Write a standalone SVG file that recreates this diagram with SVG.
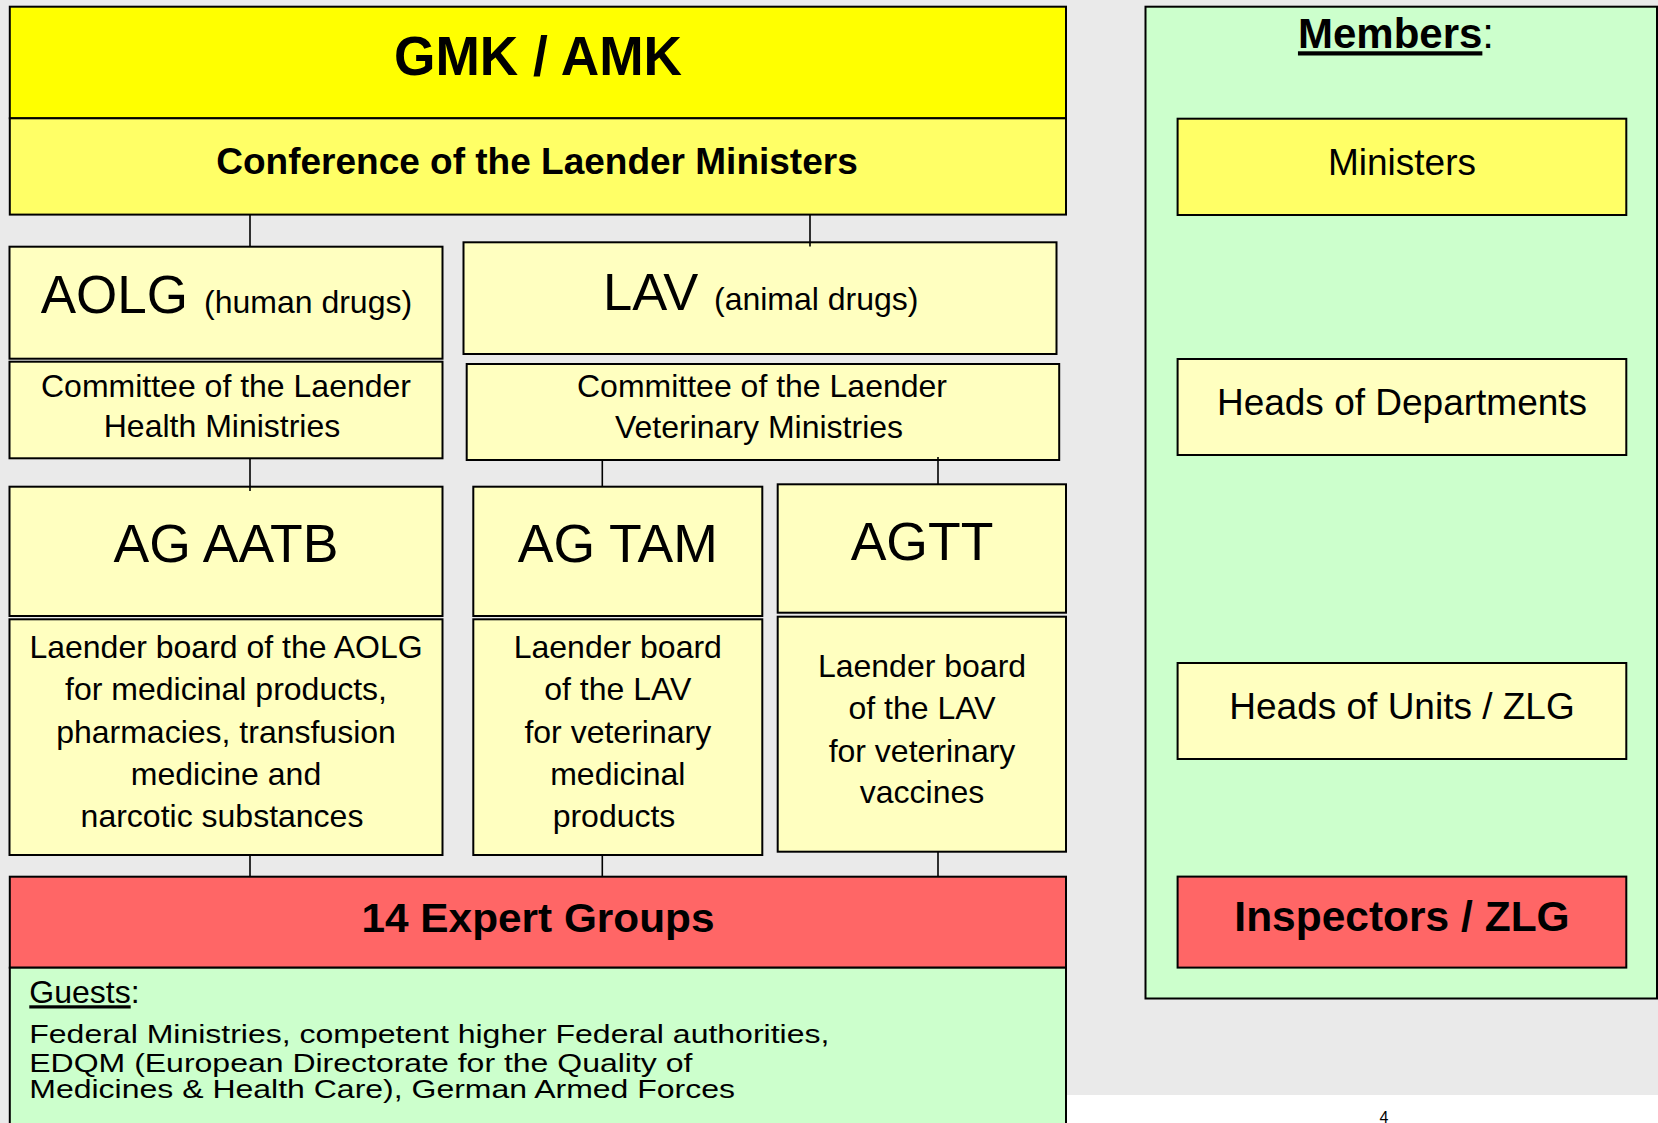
<svg xmlns="http://www.w3.org/2000/svg" width="1658" height="1123" viewBox="0 0 1658 1123">
<style>
text{font-family:"Liberation Sans",Arial,sans-serif;fill:#000}
.box{stroke:#000;stroke-width:2}
.y1{fill:#FFFF00}.y2{fill:#FFFF66}.y3{fill:#FFFFC0}.g{fill:#CCFFCC}.r{fill:#FF6666}
.c{text-anchor:middle}
.b{font-weight:bold}
.t31{font-size:32px}.t37{font-size:37px}.t51{font-size:53.5px}
.conn line{stroke:#000;stroke-width:1.6}
</style>
<rect width="1658" height="1123" fill="#EAEAEA"/>
<rect x="1066" y="1095" width="592" height="28" fill="#FFFFFF"/>
<text x="1384" y="1123" class="c" font-size="16" fill="#222">4</text>

<g id="gmk"><rect class="box y1" x="9.8" y="6.7" width="1056.2" height="111.6"/>
<text x="538" y="75" class="c b" font-size="56" textLength="288" lengthAdjust="spacingAndGlyphs">GMK / AMK</text></g>
<g id="conference"><rect class="box y2" x="9.8" y="118.3" width="1056.2" height="96.3"/>
<text x="537" y="174" class="c b" font-size="37">Conference of the Laender Ministers</text></g>

<g id="aolg"><rect class="box y3" x="9.5" y="246.7" width="433" height="112"/>
<text y="313"><tspan x="40.7" font-size="53">AOLG</tspan><tspan x="204" font-size="32">(human drugs)</tspan></text></g>
<g id="aolg-committee"><rect class="box y3" x="9.5" y="361.7" width="433" height="96.6"/>
<text class="c t31" x="226" y="396.7">Committee of the Laender</text>
<text class="c t31" x="222" y="436.7">Health Ministries</text></g>

<g id="lav"><rect class="box y3" x="463.5" y="242.3" width="593" height="111.7"/>
<text y="310"><tspan x="603" font-size="52.5">LAV</tspan><tspan x="714" font-size="32">(animal drugs)</tspan></text></g>
<g id="lav-committee"><rect class="box y3" x="466.7" y="364" width="592.5" height="96"/>
<text class="c t31" x="762" y="397">Committee of the Laender</text>
<text class="c t31" x="759" y="437.5">Veterinary Ministries</text></g>

<g id="ag-aatb"><rect class="box y3" x="9.5" y="486.7" width="433" height="129.3"/>
<text class="c t51" x="226" y="562">AG AATB</text></g>
<g id="ag-aatb-desc"><rect class="box y3" x="9.5" y="619.3" width="433" height="235.7"/>
<text class="c t31" x="226" y="658.3">Laender board of the AOLG</text>
<text class="c t31" x="226" y="700">for medicinal products,</text>
<text class="c t31" x="226" y="742.5">pharmacies, transfusion</text>
<text class="c t31" x="226" y="785">medicine and</text>
<text class="c t31" x="222" y="826.7">narcotic substances</text></g>

<g id="ag-tam"><rect class="box y3" x="473.3" y="486.7" width="289" height="129.3"/>
<text class="c t51" x="617.8" y="562.3">AG TAM</text></g>
<g id="ag-tam-desc"><rect class="box y3" x="473.3" y="619.3" width="289" height="235.7"/>
<text class="c t31" x="617.8" y="658.3">Laender board</text>
<text class="c t31" x="617.8" y="700">of the LAV</text>
<text class="c t31" x="617.8" y="742.5">for veterinary</text>
<text class="c t31" x="617.8" y="785">medicinal</text>
<text class="c t31" x="614" y="826.7">products</text></g>

<g id="agtt"><rect class="box y3" x="777.7" y="484.3" width="288.3" height="128.4"/>
<text class="c t51" x="922" y="560">AGTT</text></g>
<g id="agtt-desc"><rect class="box y3" x="777.7" y="616.7" width="288.3" height="235"/>
<text class="c t31" x="922" y="677.3">Laender board</text>
<text class="c t31" x="922" y="719.3">of the LAV</text>
<text class="c t31" x="922" y="761.7">for veterinary</text>
<text class="c t31" x="922" y="803.3">vaccines</text></g>

<g id="expert-groups"><rect class="box r" x="9.8" y="876.7" width="1056.2" height="91"/>
<text x="538" y="931.7" class="c b" font-size="41" textLength="353" lengthAdjust="spacingAndGlyphs">14 Expert Groups</text></g>

<g id="guests"><rect class="box g" x="9.8" y="967.7" width="1056.2" height="170"/>
<text x="29.3" y="1003.3" font-size="32"><tspan text-decoration="underline">Guests</tspan>:</text>
<g transform="translate(0,1043.3) scale(1,0.82)" font-size="32">
<text x="29.3" y="0">Federal Ministries, competent higher Federal authorities,</text>
<text x="29.3" y="34.6">EDQM (European Directorate for the Quality of</text>
<text x="29.3" y="67.1">Medicines &amp; Health Care), German Armed Forces</text>
</g></g>

<g id="members"><rect class="box g" x="1145.5" y="6.7" width="511.5" height="991.8"/>
<text x="1396" y="48.3" class="c" font-size="42"><tspan font-weight="bold" text-decoration="underline">Members</tspan>:</text></g>
<g id="ministers"><rect class="box y2" x="1177.6" y="118.7" width="448.7" height="96.3"/>
<text class="c t37" x="1402" y="175">Ministers</text></g>
<g id="heads-departments"><rect class="box y3" x="1177.6" y="359" width="448.7" height="96"/>
<text class="c t37" x="1402" y="415">Heads of Departments</text></g>
<g id="heads-units"><rect class="box y3" x="1177.6" y="663" width="448.7" height="96"/>
<text class="c t37" x="1402" y="719">Heads of Units / ZLG</text></g>
<g id="inspectors"><rect class="box r" x="1177.6" y="876.6" width="448.7" height="91"/>
<text class="c b" font-size="42.5" x="1402" y="931">Inspectors / ZLG</text></g>

<g id="connectors" class="conn">
<line x1="250" y1="215" x2="250" y2="246.7"/>
<line x1="810" y1="215" x2="810" y2="246.5"/>
<line x1="250" y1="458.3" x2="250" y2="491"/>
<line x1="602.3" y1="460" x2="602.3" y2="486.7"/>
<line x1="938" y1="457" x2="938" y2="484.3"/>
<line x1="250" y1="855" x2="250" y2="876.7"/>
<line x1="602.3" y1="855" x2="602.3" y2="876.7"/>
<line x1="938" y1="851.7" x2="938" y2="876.7"/>
</g>
</svg>
